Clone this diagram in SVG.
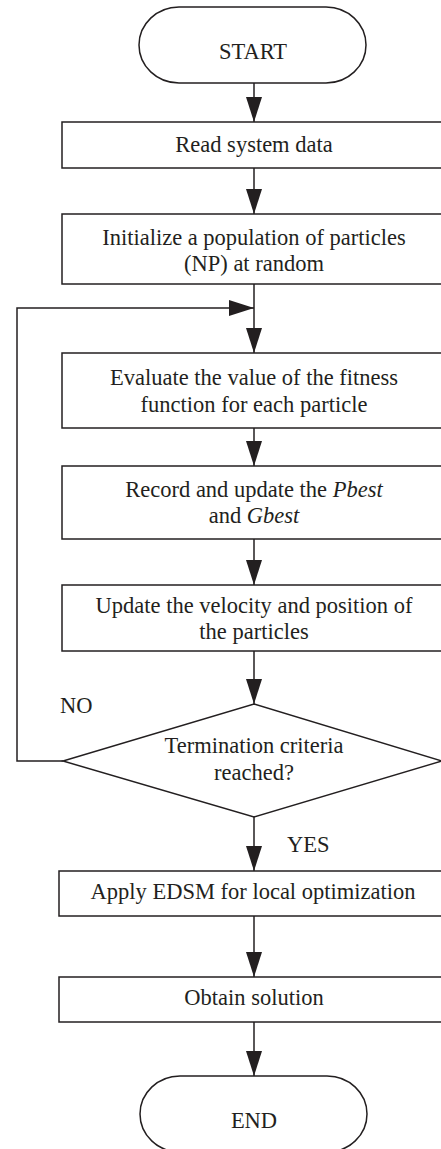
<svg xmlns="http://www.w3.org/2000/svg" width="441" height="1149" viewBox="0 0 441 1149">
<style>
.s{fill:#fff;stroke:#231f20;stroke-width:1.5}
.t{font-family:"Liberation Serif","Times New Roman",serif;font-size:22.5px;fill:#231f20;text-anchor:middle}
.l{font-family:"Liberation Serif","Times New Roman",serif;font-size:22.5px;fill:#231f20}
.c{fill:none;stroke:#231f20;stroke-width:1.5}
</style>
<defs>
<marker id="ah" viewBox="0 0 25 16" refX="25" refY="8" markerWidth="25" markerHeight="16" markerUnits="userSpaceOnUse" orient="auto">
<path d="M0,0 L25,8 L0,16 Z" fill="#231f20"/>
</marker>
</defs>
<rect width="441" height="1149" fill="#fff"/>
<g id="connectors">
<line class="c" x1="254" y1="83" x2="254" y2="122" marker-end="url(#ah)"/>
<line class="c" x1="254" y1="168" x2="254" y2="214" marker-end="url(#ah)"/>
<line class="c" x1="254" y1="284" x2="254" y2="353" marker-end="url(#ah)"/>
<polyline class="c" points="63,761 17,761 17,308 254,308" marker-end="url(#ah)"/>
<line class="c" x1="254" y1="428" x2="254" y2="466" marker-end="url(#ah)"/>
<line class="c" x1="254" y1="539" x2="254" y2="585" marker-end="url(#ah)"/>
<line class="c" x1="254" y1="651" x2="254" y2="704" marker-end="url(#ah)"/>
<line class="c" x1="254" y1="817" x2="254" y2="871" marker-end="url(#ah)"/>
<line class="c" x1="254" y1="916" x2="254" y2="977" marker-end="url(#ah)"/>
<line class="c" x1="254" y1="1022" x2="254" y2="1076" marker-end="url(#ah)"/>
<text class="l" x="60" y="713">NO</text>
<text class="l" x="287" y="852">YES</text>
</g>
<g id="start">
<rect class="s" x="139" y="7" width="227" height="76" rx="40" ry="38"/>
<text class="t" x="253" y="59">START</text>
</g>
<g id="read">
<rect class="s" x="62" y="122" width="384" height="46"/>
<text class="t" x="254" y="152">Read system data</text>
</g>
<g id="init">
<rect class="s" x="62" y="214" width="384" height="70"/>
<text class="t" x="254" y="245">Initialize a population of particles</text>
<text class="t" x="254" y="271">(NP) at random</text>
</g>
<g id="evaluate">
<rect class="s" x="62" y="353" width="384" height="75"/>
<text class="t" x="254" y="385">Evaluate the value of the fitness</text>
<text class="t" x="254" y="412">function for each particle</text>
</g>
<g id="record">
<rect class="s" x="62" y="466" width="384" height="73"/>
<text class="t" x="254" y="497">Record and update the <tspan font-style="italic">Pbest</tspan></text>
<text class="t" x="254" y="523">and <tspan font-style="italic">Gbest</tspan></text>
</g>
<g id="update">
<rect class="s" x="62" y="585" width="384" height="66"/>
<text class="t" x="254" y="613">Update the velocity and position of</text>
<text class="t" x="254" y="639">the particles</text>
</g>
<g id="decision">
<polygon class="s" points="254,704 442,761 254,817 63,761"/>
<text class="t" x="254" y="753">Termination criteria</text>
<text class="t" x="254" y="780">reached?</text>
</g>
<g id="apply">
<rect class="s" x="59" y="871" width="390" height="45"/>
<text class="t" x="253" y="899">Apply EDSM for local optimization</text>
</g>
<g id="obtain">
<rect class="s" x="59" y="977" width="390" height="45"/>
<text class="t" x="254" y="1005">Obtain solution</text>
</g>
<g id="end">
<rect class="s" x="140" y="1076" width="227" height="76" rx="40" ry="38"/>
<text class="t" x="254" y="1128">END</text>
</g>
</svg>
